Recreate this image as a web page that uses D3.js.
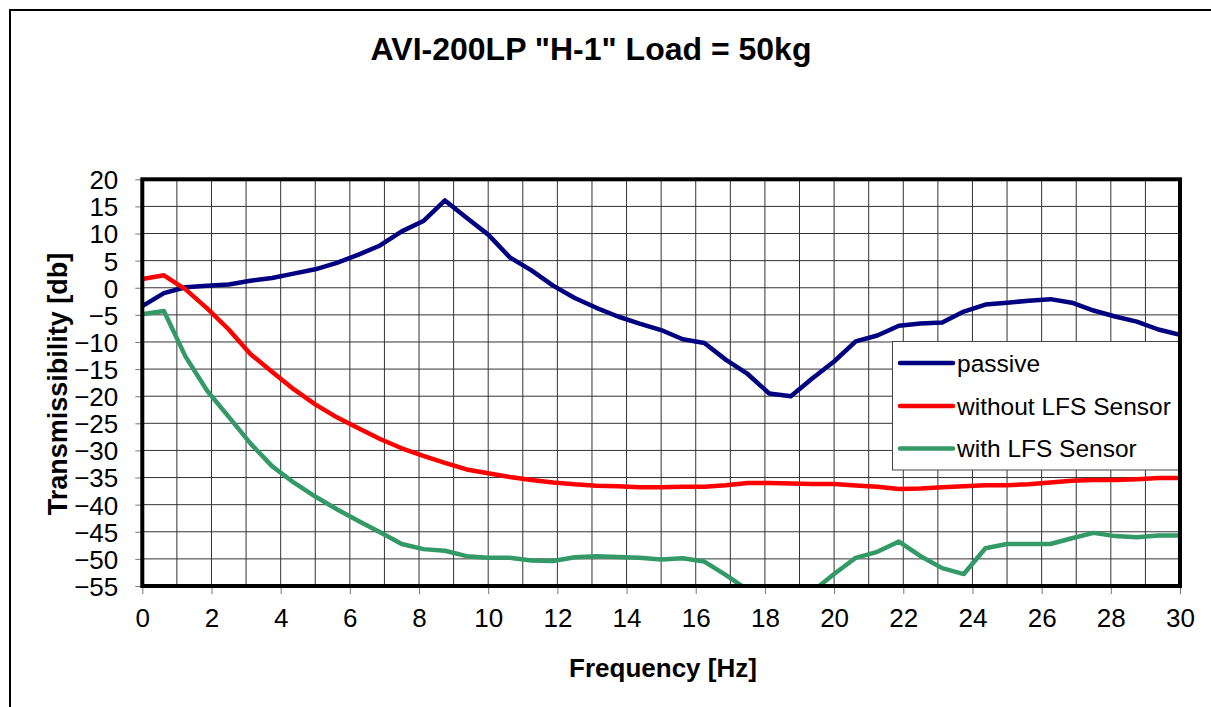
<!DOCTYPE html>
<html>
<head>
<meta charset="utf-8">
<script src="https://cdn.jsdelivr.net/npm/d3@7"></script>
<style>
  html, body { margin: 0; padding: 0; background: #fff; }
  svg { display: block; font-family: "Liberation Sans", Arial, sans-serif; }
</style>
</head>
<body>
<svg id="chart" width="1211" height="707"></svg>
<script>
// ---- data ----
const titleText = 'AVI-200LP "H-1" Load = 50kg';
const xTitle = "Frequency [Hz]";
const yTitle = "Transmissibility [db]";
const frequency = [0, 0.625, 1.25, 1.875, 2.5, 3.125, 3.75, 4.375, 5, 5.625, 6.25, 6.875, 7.5, 8.125, 8.75, 9.375,
  10, 10.625, 11.25, 11.875, 12.5, 13.125, 13.75, 14.375, 15, 15.625, 16.25, 16.875, 17.5, 18.125, 18.75, 19.375,
  20, 20.625, 21.25, 21.875, 22.5, 23.125, 23.75, 24.375, 25, 25.625, 26.25, 26.875, 27.5, 28.125, 28.75, 29.375, 30];
const passive = [-3.4, -1.0, 0.1, 0.35, 0.6, 1.3, 1.8, 2.6, 3.4, 4.6, 6.1, 7.8, 10.4, 12.3, 16.1, 12.9,
  9.8, 5.6, 3.2, 0.4, -1.9, -3.7, -5.3, -6.6, -7.8, -9.5, -10.2, -13.3, -15.9, -19.5, -20.0, -16.7,
  -13.6, -9.9, -8.8, -7.0, -6.6, -6.4, -4.4, -3.1, -2.75, -2.4, -2.1, -2.75, -4.2, -5.3, -6.25, -7.7, -8.7];
const withoutLFS = [1.6, 2.3, -0.3, -3.8, -7.7, -12.2, -15.5, -18.7, -21.5, -23.9, -25.9, -27.9, -29.6, -31.0, -32.3, -33.5,
  -34.2, -34.9, -35.45, -35.9, -36.25, -36.5, -36.6, -36.8, -36.8, -36.7, -36.7, -36.4, -36.0, -36.0, -36.1, -36.2,
  -36.2, -36.45, -36.7, -37.1, -37.0, -36.8, -36.6, -36.4, -36.4, -36.25, -35.9, -35.6, -35.45, -35.45, -35.3, -35.1, -35.1];
const withLFS = [-4.9, -4.3, -12.7, -19.0, -23.8, -28.7, -32.9, -35.9, -38.5, -40.85, -43.0, -45.1, -47.25, -48.2, -48.5, -49.5,
  -49.8, -49.8, -50.3, -50.4, -49.7, -49.5, -49.65, -49.8, -50.1, -49.9, -50.5, -53.0, -55.7, -58.0, -58.5, -56.0,
  -52.8, -49.8, -48.7, -46.8, -49.5, -51.7, -52.8, -48.05, -47.25, -47.25, -47.25, -46.2, -45.2, -45.8, -46.0, -45.7, -45.7];
const seriesNames = ["passive", "without LFS Sensor", "with LFS Sensor"];
const seriesColors = ["#000080", "#ff0000", "#339966"];
const xTickValues = [0, 2, 4, 6, 8, 10, 12, 14, 16, 18, 20, 22, 24, 26, 28, 30];
const yTickValues = [20, 15, 10, 5, 0, -5, -10, -15, -20, -25, -30, -35, -40, -45, -50, -55];

// ---- layout ----
const svg = d3.select("#chart");
const L = 142.3, R = 1180, T = 179.3, B = 586;
const x = d3.scaleLinear().domain([0, 30]).range([L, R]);
const y = d3.scaleLinear().domain([-55, 20]).range([B, T]);

// outer frame
svg.append("rect").attr("x", 10).attr("y", 10).attr("width", 1260).attr("height", 760)
  .attr("fill", "#fff").attr("stroke", "#000").attr("stroke-width", 2);

// title
svg.append("text").attr("x", 591).attr("y", 60).attr("text-anchor", "middle")
  .attr("font-size", 32).attr("font-weight", "bold").text(titleText);

// grid
const grid = svg.append("g").attr("stroke", "#333").attr("stroke-width", 1);
grid.selectAll("line.v").data(d3.range(1, 30)).join("line")
  .attr("x1", d => x(d)).attr("x2", d => x(d)).attr("y1", T).attr("y2", B);
grid.selectAll("line.h").data(yTickValues.slice(1, -1)).join("line")
  .attr("x1", L).attr("x2", R).attr("y1", d => y(d)).attr("y2", d => y(d));

// axes
const xAxis = svg.append("g").attr("transform", `translate(0,${B})`)
  .call(d3.axisBottom(x).tickValues(xTickValues).tickSize(8).tickPadding(15).tickFormat(d3.format("d")));
const yAxis = svg.append("g").attr("transform", `translate(${L},0)`)
  .call(d3.axisLeft(y).tickValues(yTickValues).tickSize(7).tickPadding(17).tickFormat(d3.format("d")));
[xAxis, yAxis].forEach(a => {
  a.select(".domain").remove();
  a.selectAll(".tick line").attr("stroke", "#777").attr("stroke-width", 1);
  a.selectAll(".tick text").attr("font-size", 26).attr("fill", "#000")
    .attr("font-family", "'Liberation Sans', Arial, sans-serif");
});
yAxis.selectAll(".tick text").attr("dy", "0.36em");

// axis titles
svg.append("text").attr("x", 663).attr("y", 677).attr("text-anchor", "middle")
  .attr("font-size", 26).attr("font-weight", "bold").text(xTitle);
svg.append("text").attr("transform", "translate(67,384) rotate(-90)").attr("text-anchor", "middle")
  .attr("font-size", 27).attr("font-weight", "bold").text(yTitle);

// clip
svg.append("clipPath").attr("id", "plotclip").append("rect")
  .attr("x", L).attr("y", T).attr("width", R - L).attr("height", B - T);

// series
const allSeries = [passive, withoutLFS, withLFS];
const line = d3.line().x((d, i) => x(frequency[i])).y(d => y(d));
const lines = svg.append("g").attr("clip-path", "url(#plotclip)");
allSeries.forEach((s, k) => {
  lines.append("path").datum(s).attr("d", line).attr("fill", "none")
    .attr("stroke", seriesColors[k]).attr("stroke-width", 4.5).attr("stroke-linejoin", "round");
});

// legend
const lg = svg.append("g");
lg.append("rect").attr("x", 892.5).attr("y", 341.5).attr("width", 288).attr("height", 128.5)
  .attr("fill", "#fff").attr("stroke", "#444").attr("stroke-width", 1);
const rowY = [363, 406, 448.5];
seriesNames.forEach((n, k) => {
  lg.append("line").attr("x1", 900).attr("x2", 953).attr("y1", rowY[k]).attr("y2", rowY[k])
    .attr("stroke", seriesColors[k]).attr("stroke-width", 4.5).attr("stroke-linecap", "round");
  lg.append("text").attr("x", 957).attr("y", rowY[k]).attr("dy", "0.36em")
    .attr("font-size", 24.5).text(n);
});

// plot frame
svg.append("rect").attr("x", L).attr("y", T).attr("width", R - L).attr("height", B - T)
  .attr("fill", "none").attr("stroke", "#000").attr("stroke-width", 4);
</script>
</body>
</html>
